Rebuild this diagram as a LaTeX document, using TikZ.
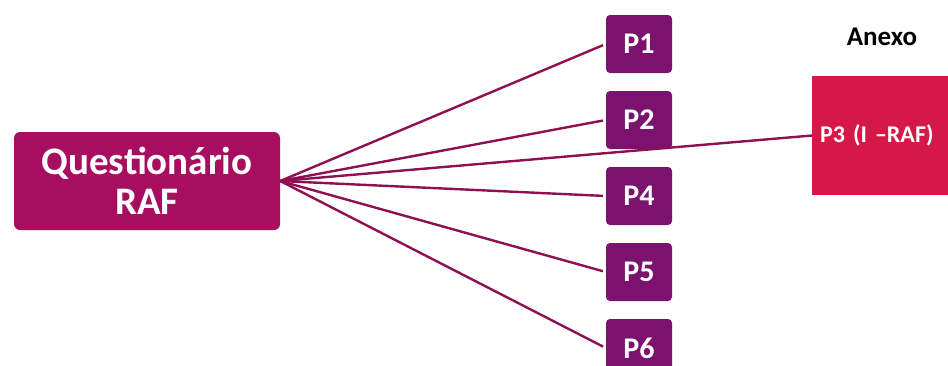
\documentclass[tikz,border=0pt]{standalone}
\usepackage{fontspec}
\setmainfont{Carlito}
\usepackage{tikz}
\usetikzlibrary{positioning}
\definecolor{rafmagenta}{RGB}{168,14,96}
\definecolor{ppurple}{RGB}{122,18,110}
\definecolor{anexored}{RGB}{214,24,72}
\definecolor{linkmagenta}{RGB}{142,16,82}
\tikzstyle{rafbox} = [rectangle, rounded corners=6pt, fill=rafmagenta, text=white, font=\bfseries\fontsize{39}{40}\selectfont, align=center, minimum width=266pt, minimum height=98pt]
\tikzstyle{pbox} = [rectangle, rounded corners=4pt, fill=ppurple, text=white, font=\bfseries\fontsize{30}{30}\selectfont, minimum width=66pt, minimum height=58pt]
\tikzstyle{anexobox} = [rectangle, fill=anexored, text=white, font=\bfseries\fontsize{24}{24}\selectfont, align=left, text width=134pt, inner sep=8pt, minimum height=119pt]
\tikzstyle{link} = [linkmagenta, line width=2.4pt, shorten >=3pt]

\begin{document}
\begin{tikzpicture}[x=1pt, y=-1pt, node distance=76pt]
		\useasboundingbox (0,0) rectangle (948,365);
		\node (raf) [rafbox] at (147,181) {Questionário\\RAF};
		\node (p1) [pbox] at (639,44) {P1};
		\node (p2) [pbox, below of=p1] {P2};
		\node (p4) [pbox, below of=p2] {P4};
		\node (p5) [pbox, below of=p4] {P5};
		\node (p6) [pbox, below of=p5] {P6};
		\node (p3) [anexobox, anchor=west] at (812,135.5) {P3 (I --RAF)};
		\node (anexo) [font=\bfseries\fontsize{27}{27}\selectfont] at (882,37) {Anexo};
		\draw [link] (raf.east) -- (p1.west);
		\draw [link] (raf.east) -- (p2.west);
		\draw [link, shorten >=0pt] (raf.east) -- (p3.west);
		\draw [link] (raf.east) -- (p4.west);
		\draw [link] (raf.east) -- (p5.west);
		\draw [link] (raf.east) -- (p6.west);
	\end{tikzpicture}
\end{document}
